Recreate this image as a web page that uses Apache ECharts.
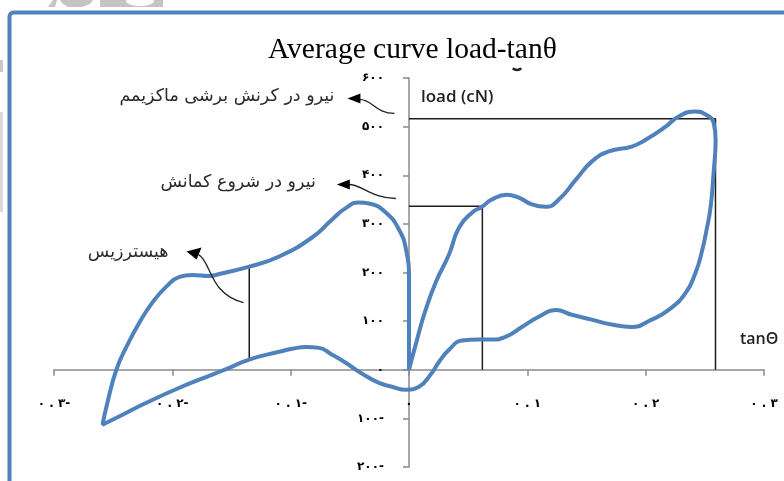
<!DOCTYPE html>
<html>
<head>
<meta charset="utf-8">
<script src="https://cdn.jsdelivr.net/npm/echarts@6/dist/echarts.min.js"></script>
<style>
  html, body { margin: 0; padding: 0; background: #fff; }
  #chart { width: 784px; height: 481px; }
</style>
</head>
<body>
<div id="chart"></div>
<script>
// Hysteresis loop (tan θ, load in cN), listed in drawing order:
// loading branch from the origin, unloading on the right, lower return branch,
// lower-left tip, upper-left branch and back down to the origin.
const tanTheta = [
  0, 0.0068, 0.0135, 0.0228, 0.0338, 0.0422, 0.0532, 0.0616, 0.070, 0.0827,
  0.0928, 0.1038, 0.1156, 0.1266, 0.141, 0.1544, 0.1688, 0.1882, 0.200, 0.2169,
  0.2278, 0.2422, 0.2506, 0.2574, 0.2591, 0.2574, 0.2549, 0.2515, 0.2473, 0.2422,
  0.2338, 0.2194, 0.2051, 0.1882, 0.1713, 0.1544, 0.1376, 0.124, 0.1097, 0.0954,
  0.0819, 0.070, 0.059, 0.0447, 0.0338, 0.0253, 0.0194, 0.0084, -0.0025, -0.0143,
  -0.0253, -0.0397, -0.0532, -0.065, -0.076, -0.087, -0.0987, -0.1097, -0.135, -0.1519,
  -0.1662, -0.194, -0.222, -0.2506, -0.259, -0.2549, -0.2473, -0.2388, -0.2278, -0.2169,
  -0.2051, -0.194, -0.1831, -0.1688, -0.1586, -0.135, -0.1097, -0.0819, -0.065, -0.0532,
  -0.0422, -0.0338, -0.0194, -0.0084, -0.0025, 0, 0, 0
];
const loadCN = [
  0, 62, 119, 181, 237, 292, 323, 335, 350, 360,
  354, 340, 335, 350, 391, 428, 449, 459, 473, 500,
  521, 531, 525, 508, 473, 405, 335, 288, 241, 200,
  158, 123, 103, 88, 93, 103, 113, 123, 109, 88,
  68, 62, 62, 60, 41, 16, -6, -35, -41, -35,
  -27, -8, 14, 31, 45, 47, 43, 37, 21, 4,
  -10, -37, -68, -103, -113, -68, 0, 47, 97, 138,
  171, 191, 195, 193, 198, 212, 233, 272, 309, 333,
  344, 342, 323, 288, 247, 185, 103, 0
];

// Axis ranges and steps
const xRange = [-0.3, 0.3];
const xStep = 0.1;
const yRange = [-200, 600];
const yStep = 100;

// Reference markers on the loop
const maxShear = { tan: 0.259, load: 516 };      // load at maximum shear strain
const buckling = { tan: 0.062, load: 336 };      // load at onset of buckling
const hysteresis = { tan: -0.135, upper: 212, lower: 21 };

// Annotation labels and the data point each arrow tip sits on
const notes = [
  { text: 'نیرو در کرنش برشی ماکزیمم', tip: [-0.052, 558] },
  { text: 'نیرو در شروع کمانش', tip: [-0.061, 381] },
  { text: 'هیسترزیس', tip: [-0.188, 243] }
];

const loopPoints = tanTheta.map((t, i) => [t, loadCN[i]]);

const faDigits = '۰۱۲۳۴۵۶۷۸۹';
const toFa = s => String(s).replace(/\d/g, d => faDigits[d]);
const yLabel = v => v < 0 ? toFa(-v) + '-' : toFa(v);
const xLabel = v => {
  const a = Math.abs(v);
  if (a < 1e-9) return '۰';
  const s = toFa(a.toFixed(1)).replace('.', ' . ');
  return v < 0 ? s + '-' : s;
};

const axisGray = '#8a8a8a';
const refLine = { color: '#1c1c1c', width: 1.5 };
const gridBox = { left: 54, right: 20, top: 78, bottom: 14 };
const tickFont = { fontFamily: 'DejaVu Sans', fontSize: 12, fontWeight: 'bold', color: '#000' };

const chart = echarts.init(document.getElementById('chart'), null, { renderer: 'canvas' });

const option = {
  backgroundColor: '#ffffff',
  animation: false,
  title: {
    text: 'Average curve load-tanθ',
    left: 268,
    top: 35,
    padding: 0,
    textStyle: { fontFamily: 'Liberation Serif', fontSize: 29.5, fontWeight: 'normal', color: '#000' }
  },
  grid: Object.assign({ containLabel: false, outerBoundsMode: 'none' }, gridBox),
  xAxis: {
    type: 'value',
    position: 'bottom',
    min: xRange[0], max: xRange[1], interval: xStep,
    name: 'tanΘ',
    nameLocation: 'end',
    nameGap: -24,
    nameTextStyle: {
      fontFamily: 'Open Sans', fontWeight: 600, fontSize: 16, color: '#222',
      align: 'left', verticalAlign: 'bottom', padding: [0, 0, 22, 0]
    },
    axisLine: { onZero: false, lineStyle: { color: axisGray, width: 1.5 } },
    axisTick: { show: true, inside: false, length: 6, lineStyle: { color: axisGray, width: 1.5 } },
    axisLabel: Object.assign({ margin: 28, formatter: xLabel }, tickFont),
    splitLine: { show: false }
  },
  yAxis: {
    type: 'value',
    position: 'left',
    min: yRange[0], max: yRange[1], interval: yStep,
    name: 'load (cN)',
    nameLocation: 'end',
    nameGap: -19,
    nameTextStyle: {
      fontFamily: 'Open Sans', fontWeight: 600, fontSize: 17, color: '#222',
      align: 'left', verticalAlign: 'middle', padding: [0, 0, 0, 12]
    },
    axisLine: { onZero: false, lineStyle: { color: axisGray, width: 1.5 } },
    axisTick: { show: true, inside: false, length: 6, lineStyle: { color: axisGray, width: 1.5 } },
    axisLabel: Object.assign({ margin: 25, formatter: yLabel }, tickFont),
    splitLine: { show: false }
  },
  series: [
    {
      name: 'max shear',
      type: 'line',
      data: [[0, maxShear.load], [maxShear.tan, maxShear.load], [maxShear.tan, 0]],
      symbol: 'none', lineStyle: refLine, z: 2, silent: true
    },
    {
      name: 'buckling',
      type: 'line',
      data: [[0, buckling.load], [buckling.tan, buckling.load], [buckling.tan, 0]],
      symbol: 'none', lineStyle: refLine, z: 2, silent: true
    },
    {
      name: 'hysteresis',
      type: 'line',
      data: [[hysteresis.tan, hysteresis.upper], [hysteresis.tan, hysteresis.lower]],
      symbol: 'none', lineStyle: refLine, z: 2, silent: true
    },
    {
      name: 'load-tanθ',
      type: 'line',
      data: loopPoints,
      smooth: 0.5,
      symbol: 'none',
      lineStyle: { color: '#4F81BD', width: 4 },
      z: 3
    }
  ]
};

chart.setOption(option);

// Move both axes (line, ticks and labels) so they cross at the data origin.
const origin = chart.convertToPixel({ gridIndex: 0 }, [0, 0]);
const corner = chart.convertToPixel({ gridIndex: 0 }, [xRange[0], yRange[0]]);
chart.setOption({
  yAxis: { offset: -(origin[0] - corner[0]) },
  xAxis: { offset: -(corner[1] - origin[1]) }
});

// Frame, faint page marks and annotation arrows drawn on top of the plot.
function buildGraphics() {
  const els = [
    {
      type: 'rect', silent: true, z: 100,
      shape: { x: 9.5, y: 12.5, width: 820, height: 520, r: 4 },
      style: { fill: 'none', stroke: '#4F81BD', lineWidth: 4 }
    },
    { type: 'polygon', silent: true, shape: { points: [[48, 7], [53, 0], [57, 0], [55, 7]] }, style: { fill: '#c4c4c4' } },
    { type: 'polygon', silent: true, shape: { points: [[60, 0], [93, 0], [90, 4], [82, 7], [68, 7], [63, 4]] }, style: { fill: '#c4c4c4' } },
    { type: 'polygon', silent: true, shape: { points: [[100, 0], [163, 0], [163, 7], [100, 7]] }, style: { fill: '#c4c4c4' } },
    { type: 'ellipse', silent: true, shape: { cx: 140, cy: 1, rx: 14, ry: 5 }, style: { fill: '#ffffff' } },
    { type: 'rect', silent: true, shape: { x: 0, y: 60, width: 3, height: 12 }, style: { fill: '#c8c8c8' } },
    { type: 'rect', silent: true, shape: { x: 0, y: 112, width: 3, height: 100 }, style: { fill: '#dadada' } },
    {
      type: 'arc', silent: true,
      shape: { cx: 517, cy: 64, r: 6, startAngle: Math.PI * 0.25, endAngle: Math.PI * 0.75 },
      style: { stroke: '#222', lineWidth: 2.5, fill: 'none' }
    }
  ];

  // Arrow shapes, in pixels relative to each arrow tip.
  const arrowShapes = [
    { head: [[0, 0], [13, -5], [13, 5]], curve: [[12, 1], [25, 1], [28, 15], [47, 15]], textDx: -13, textDy: -2 },
    { head: [[0, 0], [13, -5], [13, 5]], curve: [[12, 0], [25, 0], [35, 14], [59, 14]], textDx: -21, textDy: -2 },
    { head: [[0, 0], [15, -4], [10, 8]], curve: [[12, 3], [25, 10], [22, 42], [57, 51]], textDx: -18, textDy: 1 }
  ];

  notes.forEach((n, i) => {
    const [px, py] = chart.convertToPixel({ gridIndex: 0 }, n.tip);
    const a = arrowShapes[i];
    const c = a.curve.map(p => [px + p[0], py + p[1]]);
    els.push({
      type: 'bezierCurve', silent: true, z: 50,
      shape: { x1: c[0][0], y1: c[0][1], cpx1: c[1][0], cpy1: c[1][1], cpx2: c[2][0], cpy2: c[2][1], x2: c[3][0], y2: c[3][1] },
      style: { stroke: '#222', lineWidth: 1.3, fill: 'none' }
    });
    els.push({
      type: 'polygon', silent: true, z: 51,
      shape: { points: a.head.map(p => [px + p[0], py + p[1]]) },
      style: { fill: '#000' }
    });
    els.push({
      type: 'text', silent: true, z: 51,
      x: px + a.textDx, y: py + a.textDy,
      style: {
        text: n.text, fill: '#2e2a26',
        font: '17.5px "DejaVu Sans"', align: 'right', verticalAlign: 'middle'
      }
    });
  });
  return els;
}

chart.setOption({ graphic: { elements: buildGraphics() } });
</script>
</body>
</html>
